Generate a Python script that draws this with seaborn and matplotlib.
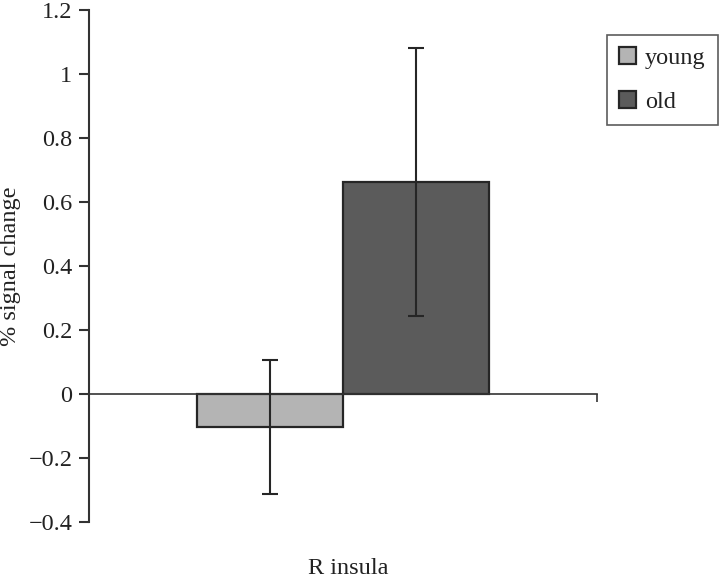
import matplotlib
matplotlib.use("Agg")
import matplotlib.pyplot as plt
import seaborn as sns
import pandas as pd

# values
REGION = ["R insula", "R insula"]
GROUPS = ["young", "old"]
MEANS = [-0.103, 0.663]
ERRORS = [0.209, 0.418]
YTICKS = [-0.4, -0.2, 0, 0.2, 0.4, 0.6, 0.8, 1, 1.2]
YTICKLABELS = ["\u22120.4", "\u22120.2", "0", "0.2", "0.4", "0.6", "0.8", "1", "1.2"]

COLORS = {"young": "#b4b4b4", "old": "#5b5b5b"}
EDGE = "#262626"
FS = 17.5


def main():
    sns.set_style("white")
    plt.rcParams["font.family"] = ["Liberation Serif", "DejaVu Serif"]

    df = pd.DataFrame({"region": REGION, "group": GROUPS, "value": MEANS})

    fig = plt.figure(figsize=(7.2, 5.82), dpi=100)
    ax = fig.add_axes([89 / 720, 1 - 522 / 582, (597 - 89) / 720, 512 / 582])

    sns.barplot(data=df, x="region", y="value", hue="group",
                hue_order=GROUPS, palette=COLORS, errorbar=None,
                width=0.8, edgecolor=EDGE, linewidth=1.6, ax=ax)

    # error bars centred on the bars seaborn drew
    for bar, mean, err in zip(ax.patches[:len(GROUPS)], MEANS, ERRORS):
        cx = bar.get_x() + bar.get_width() / 2
        ax.errorbar(cx, mean, yerr=err, color=EDGE, lw=1.5,
                    capsize=6, capthick=1.5, zorder=5)

    ax.set_xlim(-0.698, 0.698)
    ax.set_ylim(-0.4, 1.2)
    ax.set_yticks(YTICKS)
    ax.set_yticklabels(YTICKLABELS, fontsize=FS)
    ax.set_xticks([-0.698, 0.698])
    ax.set_xticklabels([])

    for side in ("top", "right"):
        ax.spines[side].set_visible(False)
    ax.spines["bottom"].set_position(("data", 0))
    ax.spines["left"].set_color("#333333")
    ax.spines["left"].set_linewidth(1.5)
    ax.spines["bottom"].set_color("#333333")
    ax.spines["bottom"].set_linewidth(1.2)
    ax.tick_params(axis="y", direction="out", length=7, width=1.5,
                   color="#333333", left=True, pad=5, labelcolor="#222222")
    ax.tick_params(axis="x", direction="out", length=6, width=1.2,
                   color="#333333", bottom=True)

    ax.set_xlabel("R insula", fontsize=FS, color="#222222")
    ax.xaxis.set_label_coords(0.51, -0.07)
    ax.set_ylabel("% signal change", fontsize=FS, color="#222222")
    ax.yaxis.set_label_coords(-0.133, 0.5)

    handles, labels = ax.get_legend_handles_labels()
    leg = ax.legend(handles, labels, loc="upper right",
                    bbox_to_anchor=(718 / 720, 1 - 35 / 582),
                    bbox_transform=fig.transFigure, borderaxespad=0,
                    fontsize=FS, frameon=True, fancybox=False,
                    labelspacing=0.9, handlelength=0.68, handleheight=0.68,
                    handletextpad=0.4, borderpad=0.5, title=None)
    leg.get_frame().set_edgecolor("#333333")
    leg.get_frame().set_linewidth(1.2)
    for t in leg.get_texts():
        t.set_color("#222222")

    fig.savefig("out.png", dpi=100)
    plt.close()


if __name__ == "__main__":
    main()
